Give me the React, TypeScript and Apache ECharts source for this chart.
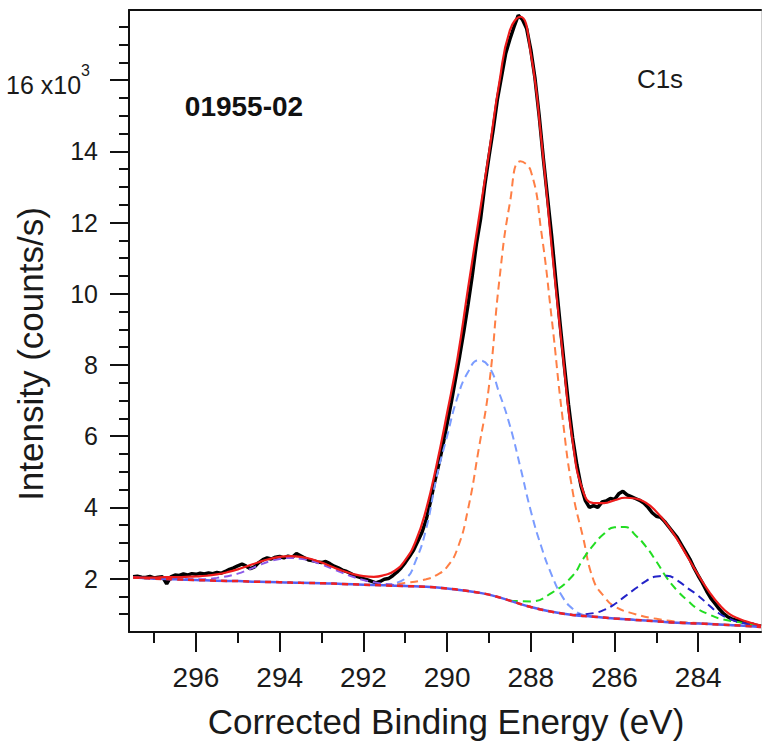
import React, { useEffect, useRef } from 'react';
import * as echarts from 'echarts';

// ---- axis ticks ----
const xMajorTicks = [284, 286, 288, 290, 292, 294, 296];
const xMinorTicks = [283, 285, 287, 289, 291, 293, 295, 297];
const yMajorTicks = [2, 4, 6, 8, 10, 12, 14, 16];
const yMinorTicks = [1, 1.5, 2.5, 3, 3.5, 4.5, 5, 5.5, 6.5, 7, 7.5, 8.5, 9, 9.5, 10.5, 11, 11.5, 12.5, 13, 13.5, 14.5, 15, 15.5, 16.5, 17, 17.5];

// ---- measured spectrum (x10^3 counts/s), 297.5 eV -> 282.5 eV, 0.1 eV steps ----
const rawStartEnergy = 297.5;
const rawStep = 0.1;
const rawIntensity = [
  2.05, 2.07, 2.04, 2.03, 2.06, 2.02, // 297.5 - 297.0
  2.04, 2.05, 1.85, 2.05, 2.1, 2.09, 2.13, 2.1, 2.14, 2.12, // 296.9 - 296.0
  2.15, 2.13, 2.16, 2.14, 2.17, 2.15, 2.2, 2.26, 2.3, 2.36, // 295.9 - 295.0
  2.41, 2.35, 2.28, 2.33, 2.45, 2.53, 2.58, 2.55, 2.6, 2.62, // 294.9 - 294.0
  2.58, 2.63, 2.6, 2.7, 2.64, 2.58, 2.52, 2.5, 2.47, 2.45, // 293.9 - 293.0
  2.48, 2.42, 2.35, 2.3, 2.24, 2.2, 2.14, 2.08, 2.04, 2.0, // 292.9 - 292.0
  1.96, 1.92, 1.88, 1.92, 1.98, 2.0, 2.08, 2.18, 2.3, 2.45, // 291.9 - 291.0
  2.62, 2.8, 3.05, 3.3, 3.65, 4.15, 4.7, 5.2, 5.75, 6.35, // 290.9 - 290.0
  6.95, 7.6, 8.25, 8.95, 9.7, 10.5, 11.4, 12.1, 13.05, 13.85, // 289.9 - 289.0
  14.6, 15.45, 16.1, 16.75, 17.15, 17.5, 17.82, 17.7, 17.45, 16.85, // 288.9 - 288.0
  16.05, 15.0, 13.8, 12.7, 11.6, 10.35, 9.15, 8.0, 6.9, 5.95, // 287.9 - 287.0
  5.2, 4.6, 4.2, 4.0, 4.05, 4.0, 4.15, 4.18, 4.25, 4.22, // 286.9 - 286.0
  4.38, 4.45, 4.35, 4.3, 4.25, 4.2, 4.12, 4.0, 3.85, 3.75, // 285.9 - 285.0
  3.72, 3.6, 3.45, 3.3, 3.15, 2.95, 2.75, 2.55, 2.3, 2.08, // 284.9 - 284.0
  1.88, 1.65, 1.45, 1.3, 1.15, 1.02, 0.93, 0.87, 0.83, 0.8, // 283.9 - 283.0
  0.77, 0.74, 0.72, 0.68, 0.66, // 282.9 - 282.5
];

// ---- envelope (fit) ----
const fitEnergy = [
  297.5, 297.25, 297, 296.75, 296.5, 296.25, 296, 295.75, 295.5, 295.25,
  295, 294.75, 294.5, 294.25, 294, 293.75, 293.5, 293.25, 293, 292.75,
  292.5, 292.25, 292, 291.75, 291.5, 291.25, 291, 290.75, 290.5, 290.25,
  290, 289.75, 289.5, 289.25, 289, 288.75, 288.5, 288.25, 288, 287.75,
  287.5, 287.25, 287, 286.75, 286.5, 286.25, 286, 285.75, 285.5, 285.25,
  285, 284.75, 284.5, 284.25, 284, 283.75, 283.5, 283.25, 283, 282.75,
  282.5,
];
const fitIntensity = [
  2.03, 2.03, 2.03, 2.04, 2.04, 2.05, 2.06, 2.08, 2.12, 2.18,
  2.26, 2.36, 2.46, 2.55, 2.61, 2.63, 2.61, 2.55, 2.45, 2.33,
  2.22, 2.13, 2.07, 2.05, 2.1, 2.22, 2.52, 3.05, 3.95, 5.2,
  6.65, 8.2, 10.15, 12.05, 13.95, 15.95, 17.4, 17.78, 16.75, 14.35,
  11.3, 8.45, 5.85, 4.45, 4.12, 4.12, 4.2, 4.27, 4.25, 4.13,
  3.88, 3.53, 3.1, 2.6, 2.1, 1.65, 1.27, 1.0, 0.86, 0.76,
  0.68,
];

// ---- background ----
const bgEnergy = [
  297.5, 297, 296.5, 296, 295.5, 295, 294.5, 294, 293.5, 293,
  292.5, 292, 291.5, 291, 290.5, 290, 289.5, 289, 288.5, 288,
  287.5, 287, 286.5, 286, 285.5, 285, 284.5, 284, 283.5, 283, 282.5,
];
const bgIntensity = [
  2.03, 2.0, 1.98, 1.96, 1.94, 1.93, 1.91, 1.9, 1.88, 1.87,
  1.85, 1.83, 1.81, 1.79, 1.77, 1.72, 1.65, 1.55, 1.38, 1.2,
  1.07, 0.98, 0.93, 0.88, 0.84, 0.8, 0.76, 0.74, 0.71, 0.68, 0.64,
];

// ---- fitted components ----
const orangeEnergy = [291.5, 291, 290.5, 290.25, 290, 289.75, 289.5, 289.25, 289, 288.75, 288.5, 288.25, 288, 287.75, 287.5, 287.25, 287, 286.75, 286.5, 286.25, 286, 285.5, 285, 284.5, 284, 283.5, 283, 282.5];
const orangeIntensity = [1.83, 1.88, 1.98, 2.1, 2.33, 2.85, 3.95, 5.6, 7.4, 10.4, 12.55, 13.72, 13.45, 11.75, 9.3, 6.6, 4.45, 3.15, 1.95, 1.5, 1.22, 1.0, 0.87, 0.79, 0.75, 0.71, 0.68, 0.65];

const lightBlueEnergy = [291.5, 291, 290.75, 290.5, 290.25, 290, 289.75, 289.5, 289.25, 289, 288.75, 288.5, 288.25, 288, 287.75, 287.5, 287.25, 287, 286.75, 286.5, 286, 285.5];
const lightBlueIntensity = [1.82, 2.0, 2.5, 3.4, 4.85, 6.0, 7.1, 7.8, 8.13, 7.95, 7.2, 6.3, 5.13, 3.9, 2.9, 2.1, 1.5, 1.15, 0.98, 0.93, 0.88, 0.84];

const greenEnergy = [288.5, 288, 287.5, 287, 286.75, 286.5, 286.25, 286, 285.75, 285.5, 285.25, 285, 284.75, 284.5, 284.25, 284, 283.75, 283.5, 283, 282.5];
const greenIntensity = [1.38, 1.36, 1.6, 2.08, 2.55, 2.95, 3.26, 3.44, 3.45, 3.22, 2.9, 2.48, 2.02, 1.66, 1.38, 1.14, 1.0, 0.88, 0.77, 0.68];

const darkBlueEnergy = [287, 286.5, 286.25, 286, 285.75, 285.5, 285.25, 285, 284.75, 284.5, 284.25, 284, 283.75, 283.5, 283.25, 283, 282.5];
const darkBlueIntensity = [0.98, 1.03, 1.12, 1.28, 1.5, 1.72, 1.93, 2.06, 2.08, 1.95, 1.73, 1.52, 1.26, 1.02, 0.87, 0.77, 0.67];

const purpleEnergy = [297.5, 297, 296.5, 296, 295.5, 295, 294.75, 294.5, 294.25, 294, 293.75, 293.5, 293.25, 293, 292.75, 292.5, 292.25, 292, 291.75, 291.5, 291];
const purpleIntensity = [2.03, 2.0, 1.99, 1.98, 2.02, 2.14, 2.25, 2.37, 2.48, 2.55, 2.58, 2.56, 2.5, 2.4, 2.28, 2.16, 2.05, 1.96, 1.9, 1.85, 1.8];

const pairs = (e: number[], v: number[]) => e.map((x, i) => [x, v[i]]);

const FONT = '"Liberation Sans", Arial, Helvetica, sans-serif';
const AX = '#111';

export default function App() {
  const ref = useRef<HTMLDivElement>(null);
  useEffect(() => {
    if (!ref.current) return;
    const chart = echarts.init(ref.current, undefined, { renderer: 'svg' });
    const rawData = rawIntensity.map((v, i) => [+(rawStartEnergy - i * rawStep).toFixed(2), v]);
    const xRange = { min: 282.5, max: 297.6, inverse: true };
    const yRange = { min: 0.5, max: 17.97 };
    const dashed = (name: string, color: string, e: number[], v: number[]) => ({
      name,
      type: 'line',
      data: pairs(e, v),
      smooth: true,
      symbol: 'none',
      lineStyle: { color, width: 2, type: [8, 5] },
      z: 3,
    });
    chart.setOption({
      animation: false,
      backgroundColor: '#ffffff',
      textStyle: { fontFamily: FONT },
      grid: { left: 129, right: 3, top: 10, bottom: 110, outerBoundsMode: 'none' },
      xAxis: [
        {
          type: 'value', ...xRange, position: 'bottom',
          axisLine: { show: true, onZero: false, lineStyle: { color: AX, width: 2 } },
          axisTick: { show: true, customValues: xMajorTicks, length: 20, lineStyle: { color: AX, width: 2 } },
          axisLabel: { show: true, customValues: xMajorTicks, margin: 31, fontSize: 28, color: '#1a1a1a', fontFamily: FONT },
          splitLine: { show: false },
        },
        {
          type: 'value', ...xRange, position: 'bottom',
          axisLine: { show: false, onZero: false },
          axisTick: { show: true, customValues: xMinorTicks, length: 11, lineStyle: { color: AX, width: 2 } },
          axisLabel: { show: false },
          splitLine: { show: false },
        },
        {
          type: 'value', ...xRange, position: 'top',
          axisLine: { show: true, onZero: false, lineStyle: { color: AX, width: 2 } },
          axisTick: { show: false },
          axisLabel: { show: false },
          splitLine: { show: false },
        },
      ],
      yAxis: [
        {
          type: 'value', ...yRange, position: 'left',
          axisLine: { show: true, onZero: false, lineStyle: { color: AX, width: 2 } },
          axisTick: { show: true, customValues: yMajorTicks, length: 19, lineStyle: { color: AX, width: 2 } },
          axisLabel: {
            show: true, customValues: yMajorTicks, margin: 31, fontSize: 25, color: '#1a1a1a', fontFamily: FONT,
            formatter: (v: number) => (v === 16 ? '{a|16 x10}{s|3}' : String(v)),
            rich: {
              a: { fontSize: 25, color: '#1a1a1a', fontFamily: FONT, verticalAlign: 'bottom' },
              s: { fontSize: 16, color: '#1a1a1a', fontFamily: FONT, verticalAlign: 'top', padding: [0, 8, 19, 0] },
            },
          },
          splitLine: { show: false },
        },
        {
          type: 'value', ...yRange, position: 'left',
          axisLine: { show: false, onZero: false },
          axisTick: { show: true, customValues: yMinorTicks, length: 10, lineStyle: { color: AX, width: 2 } },
          axisLabel: { show: false },
          splitLine: { show: false },
        },
        {
          type: 'value', ...yRange, position: 'right',
          axisLine: { show: true, onZero: false, lineStyle: { color: '#cfcfcf', width: 1 } },
          axisTick: { show: false },
          axisLabel: { show: false },
          splitLine: { show: false },
        },
      ],
      series: [
        {
          name: 'data', type: 'line', data: rawData, symbol: 'none',
          lineStyle: { color: '#000000', width: 3.5 }, z: 2,
        },
        dashed('C=O', '#ff7f45', orangeEnergy, orangeIntensity),
        dashed('O-C=O', '#7b9cff', lightBlueEnergy, lightBlueIntensity),
        dashed('C-O', '#22dd22', greenEnergy, greenIntensity),
        dashed('C-C', '#2323c8', darkBlueEnergy, darkBlueIntensity),
        dashed('shake-up', '#8c5ae8', purpleEnergy, purpleIntensity),
        {
          name: 'background', type: 'line', data: pairs(bgEnergy, bgIntensity), smooth: true, symbol: 'none',
          lineStyle: { color: '#5560f0', width: 2.5 }, z: 4,
        },
        {
          name: 'background2', type: 'line', data: pairs(bgEnergy, bgIntensity), smooth: true, symbol: 'none',
          lineStyle: { color: '#ee2222', width: 2.5, type: [6, 5] }, z: 4,
        },
        {
          name: 'fit', type: 'line', data: pairs(fitEnergy, fitIntensity), smooth: true, symbol: 'none',
          lineStyle: { color: '#ee1c1c', width: 2.2 }, z: 5,
        },
      ],
      graphic: [
        {
          type: 'text', x: 30, y: 354, rotation: Math.PI / 2,
          style: { text: 'Intensity (counts/s)', fontSize: 35, fontFamily: FONT, fill: '#1a1a1a', align: 'center', verticalAlign: 'middle' },
        },
        {
          type: 'text', x: 446, y: 721,
          style: { text: 'Corrected Binding Energy (eV)', fontSize: 35, fontFamily: FONT, fill: '#1a1a1a', align: 'center', verticalAlign: 'middle' },
        },
        {
          type: 'text', x: 244, y: 106,
          style: { text: '01955-02', fontSize: 28, fontWeight: 'bold', fontFamily: FONT, fill: '#111', align: 'center', verticalAlign: 'middle' },
        },
        {
          type: 'text', x: 660, y: 79,
          style: { text: 'C1s', fontSize: 26, fontFamily: FONT, fill: '#1a1a1a', align: 'center', verticalAlign: 'middle' },
        },
      ],
    });
    return () => chart.dispose();
  }, []);
  return <div ref={ref} style={{ width: 764, height: 742, position: 'absolute', left: 0, top: 0 }} />;
}
